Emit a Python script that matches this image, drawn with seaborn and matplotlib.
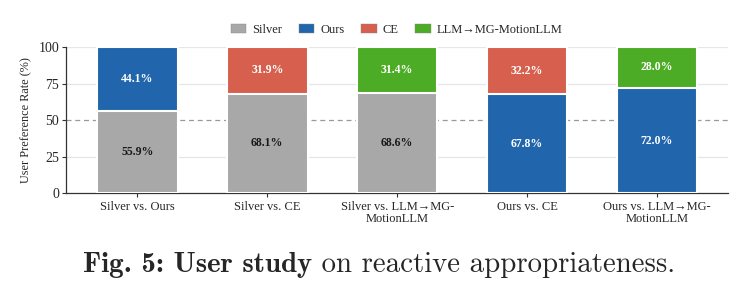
import matplotlib
matplotlib.use("Agg")
import matplotlib.pyplot as plt
from matplotlib.patches import Patch
import seaborn as sns
import pandas as pd

comparisons = ["Silver vs. Ours", "Silver vs. CE", "Silver vs. LLM→MG-\nMotionLLM",
               "Ours vs. CE", "Ours vs. LLM→MG-\nMotionLLM"]
bottom_method = ["Silver", "Silver", "Silver", "Ours", "Ours"]
bottom_vals = [55.9, 68.1, 68.6, 67.8, 72.0]
top_method = ["Ours", "CE", "LLM→MG-MotionLLM", "CE", "LLM→MG-MotionLLM"]
top_vals = [44.1, 31.9, 31.4, 32.2, 28.0]

methods = ["Silver", "Ours", "CE", "LLM→MG-MotionLLM"]
colors = {"Silver": "#a8a8a8", "Ours": "#2166ac", "CE": "#d6604d",
          "LLM→MG-MotionLLM": "#4dac26"}
text_colors = {"Silver": "#1a1a1a", "Ours": "white", "CE": "white",
               "LLM→MG-MotionLLM": "white"}

df = pd.DataFrame({
    "comparison": comparisons,
    "bottom_method": bottom_method,
    "bottom": bottom_vals,
    "top_method": top_method,
    "top": top_vals,
})
df["total"] = df["bottom"] + df["top"]

sns.set_theme(style="white")
plt.rcParams["font.family"] = ["Liberation Serif", "DejaVu Serif"]

fig = plt.figure(figsize=(7.5, 2.94), dpi=100)
ax = fig.add_axes([0.088, 0.343, 0.883, 0.497])

for y in [25, 75, 100]:
    ax.axhline(y, color="#e6e6e6", linewidth=0.9, zorder=0)
ax.axhline(50, color="#999999", linewidth=0.9, linestyle=(0, (4, 3)), zorder=0.5)

# full stack coloured by the top method, then the bottom segment on top of it
sns.barplot(data=df, x="comparison", y="total", hue="top_method", palette=colors,
            dodge=False, width=0.62, saturation=1, edgecolor="white", linewidth=1.5,
            legend=False, ax=ax, zorder=2)
sns.barplot(data=df, x="comparison", y="bottom", hue="bottom_method", palette=colors,
            dodge=False, width=0.62, saturation=1, edgecolor="white", linewidth=1.5,
            legend=False, ax=ax, zorder=3)

for i, row in df.iterrows():
    ax.text(i, row["bottom"] / 2, f"{row['bottom']:.1f}%", ha="center", va="center",
            fontsize=8.5, fontweight="bold", color=text_colors[row["bottom_method"]], zorder=5)
    ax.text(i, row["bottom"] + row["top"] / 2, f"{row['top']:.1f}%", ha="center",
            va="center", fontsize=8.5, fontweight="bold",
            color=text_colors[row["top_method"]], zorder=5)

ax.set_ylim(0, 100)
ax.set_xlim(-0.55, 4.55)
ax.set_yticks([0, 25, 50, 75, 100])
ax.set_xlabel("")
ax.set_ylabel("User Preference Rate (%)", fontsize=8.8)
ax.tick_params(axis="y", labelsize=10, length=3, width=0.8, color="#333333", left=True, pad=2)
ax.tick_params(axis="x", labelsize=9, length=3, width=0.8, color="#333333", bottom=True, pad=3)
for s in ["top", "right"]:
    ax.spines[s].set_visible(False)
for s in ["left", "bottom"]:
    ax.spines[s].set_color("#333333")
    ax.spines[s].set_linewidth(0.9)
for lab in ax.get_xticklabels():
    lab.set_linespacing(1.0)

handles = [Patch(facecolor=colors[m], edgecolor="#888888", linewidth=0.3, label=m) for m in methods]
fig.legend(handles=handles, loc="center", bbox_to_anchor=(0.529, 0.898), ncol=4,
           frameon=False, fontsize=9, handlelength=1.25, handleheight=0.8,
           handletextpad=0.5, columnspacing=1.3)

# caption in Computer Modern: bold part then regular part, centred together
cap_size = 20.8
cap_y = 0.1
renderer = fig.canvas.get_renderer()
t1 = fig.text(0, cap_y, "Fig. 5: User study", family="cmb10", fontsize=cap_size,
              ha="left", va="center")
t2 = fig.text(0, cap_y, " on reactive appropriateness.", family="cmr10", fontsize=cap_size,
              ha="left", va="center")
w1 = t1.get_window_extent(renderer).width / fig.bbox.width
w2 = t2.get_window_extent(renderer).width / fig.bbox.width
x0 = 0.506 - (w1 + w2) / 2
t1.set_x(x0)
t2.set_x(x0 + w1)

fig.savefig("out.png", dpi=100)
